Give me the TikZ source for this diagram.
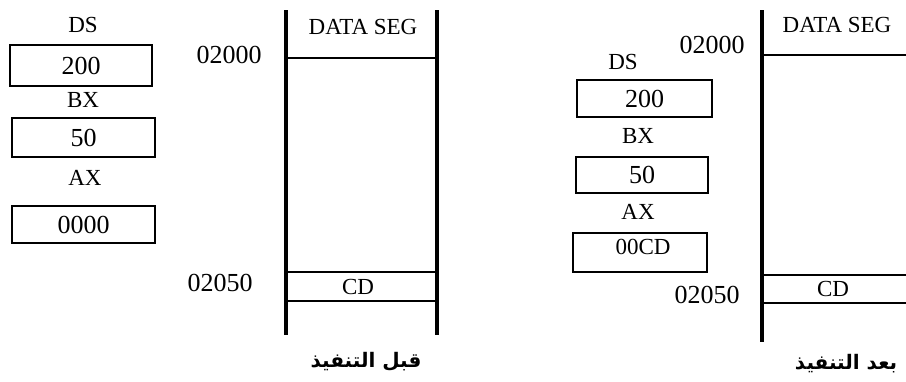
\documentclass[tikz,border=0pt]{standalone}
\usepackage{fontspec}
\setmainfont{Liberation Serif}
\newfontfamily\arabicfont[Script=Arabic]{DejaVu Sans}
\TeXXeTstate=1
\begin{document}
\begin{tikzpicture}[x=1pt,y=-1pt,
  lab/.style={inner sep=0pt,font=\fontsize{23}{23}\selectfont},
  num/.style={inner sep=0pt,font=\fontsize{26}{26}\selectfont},
  reg/.style={draw,line width=2.6pt,inner sep=0pt,font=\fontsize{26}{26}\selectfont},
  vline/.style={line width=3.2pt},
  hline/.style={line width=2.4pt},
  arab/.style={inner sep=0pt,font=\arabicfont\bfseries\fontsize{20}{20}\selectfont}]
\useasboundingbox (0,0) rectangle (906,381);
% ---------- left: before ----------
\node[lab] (ds1) at (83,25) {DS};
\node[reg,minimum width=142pt,minimum height=41pt] (r200a) at (81,65.5) {200};
\node[lab] (bx1) at (83,100) {BX};
\node[reg,minimum width=143pt,minimum height=39pt] (r50a) at (83.5,137.5) {50};
\node[lab] (ax1) at (85,178) {AX};
\node[reg,minimum width=143pt,minimum height=37pt] (raxa) at (83.5,224.5) {0000};
\node[num] (a1) at (229,55) {02000};
\node[num] (a2) at (220,283) {02050};
\coordinate (lt) at (286,10); \coordinate (lb) at (286,335);
\coordinate (rt) at (437,10); \coordinate (rb) at (437,335);
\draw[vline] (lt) -- (lb);
\draw[vline] (rt) -- (rb);
\coordinate (h1l) at (286,58); \coordinate (h1r) at (437,58);
\coordinate (h2l) at (286,272); \coordinate (h2r) at (437,272);
\coordinate (h3l) at (286,301); \coordinate (h3r) at (437,301);
\draw[hline] (h1l) -- (h1r);
\draw[hline] (h2l) -- (h2r);
\draw[hline] (h3l) -- (h3r);
\node[lab] (dseg1) at (363,27) {DATA SEG};
\node[lab] (cd1) at (358,287) {CD};
\node[arab] (before) at (366,362) {\beginR قبل التنفيذ\endR};
% ---------- right: after ----------
\node[lab] (ds2) at (623,62) {DS};
\node[reg,minimum width=135pt,minimum height=37pt] (r200b) at (644.5,98.5) {200};
\node[lab] (bx2) at (638,136) {BX};
\node[reg,minimum width=132pt,minimum height=36pt] (r50b) at (642,175) {50};
\node[lab] (ax2) at (638,212) {AX};
\node[draw,line width=2.6pt,minimum width=134pt,minimum height=39pt] (raxb) at (640,252.5) {};
\node[lab] (cdval) at (643,247) {00CD};
\node[num] (b1) at (712,45) {02000};
\node[num] (b2) at (707,295) {02050};
\coordinate (Lt) at (762,10); \coordinate (Lb) at (762,342);
\draw[vline] (Lt) -- (Lb);
\coordinate (g1l) at (762,55); \coordinate (g1r) at (906,55);
\coordinate (g2l) at (762,275); \coordinate (g2r) at (906,275);
\coordinate (g3l) at (762,303); \coordinate (g3r) at (906,303);
\draw[hline] (g1l) -- (g1r);
\draw[hline] (g2l) -- (g2r);
\draw[hline] (g3l) -- (g3r);
\node[lab] (dseg2) at (837,25) {DATA SEG};
\node[lab] (cd2) at (833,289) {CD};
\node[arab] (after) at (846,364) {\beginR بعد التنفيذ\endR};
\end{tikzpicture}
\end{document}
